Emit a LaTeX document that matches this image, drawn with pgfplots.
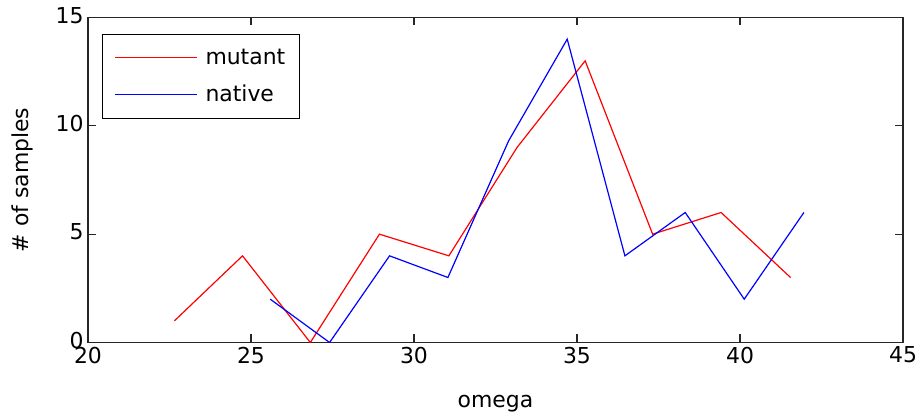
\documentclass[border=0pt]{standalone}
\usepackage{pgfplots}
\pgfplotsset{compat=1.18}
\usepackage{fontspec}
\setmainfont{DejaVu Sans}
\begin{document}
\begin{tikzpicture}
\begin{axis}[
  scale only axis,
  width=815bp, height=325bp,
  xmin=20, xmax=45, ymin=0, ymax=15,
  xtick={20,25,...,45}, ytick={0,5,10,15},
  tick align=inside,
  major tick length=8bp,
  axis line style={line width=1.4pt, black!85},
  every tick/.style={line width=1.2pt, black!85},
  tick label style={font=\fontsize{22}{26}\selectfont},
  /pgf/number format/assume math mode=true,
  xticklabel style={yshift=-1bp},
  yticklabel style={xshift=-1bp, yshift=2bp},
  label style={font=\fontsize{22}{26}\selectfont},
  xlabel={omega},
  ylabel={\# of samples},
  xlabel style={yshift=-25bp},
  ylabel style={yshift=16bp},
  legend style={at={(0.0172,0.949)}, anchor=north west,
    font=\fontsize{22}{26}\selectfont, inner xsep=12bp, inner ysep=13bp, row sep=15bp,
    column sep=6bp, cells={anchor=west}},
  legend image code/.code={\draw[#1] (0bp,0bp) -- (82bp,0bp);},
]
\addplot[red, line width=1.2pt, forget plot] coordinates {
(22.65,1) (24.74,4) (26.82,0) (28.94,5) (31.07,4) (33.16,9) (35.25,13) (37.32,5) (39.42,6) (41.55,3)
};
\addplot[blue, line width=1.2pt, forget plot] coordinates {
(25.59,2) (27.41,0) (29.25,4) (31.04,3) (32.9,9.3) (34.7,14) (36.47,4) (38.32,6) (40.13,2) (41.96,6)
};
\addlegendimage{color=red, draw=red, line width=1.3pt}
\addlegendentry{mutant}
\addlegendimage{color=blue, draw=blue, line width=1.3pt}
\addlegendentry{native}
\end{axis}
\pgfresetboundingbox
\path ([xshift=-88bp,yshift=-69.7bp]current axis.south west) rectangle ([xshift=13bp,yshift=17.5bp]current axis.north east);
\end{tikzpicture}
\end{document}
